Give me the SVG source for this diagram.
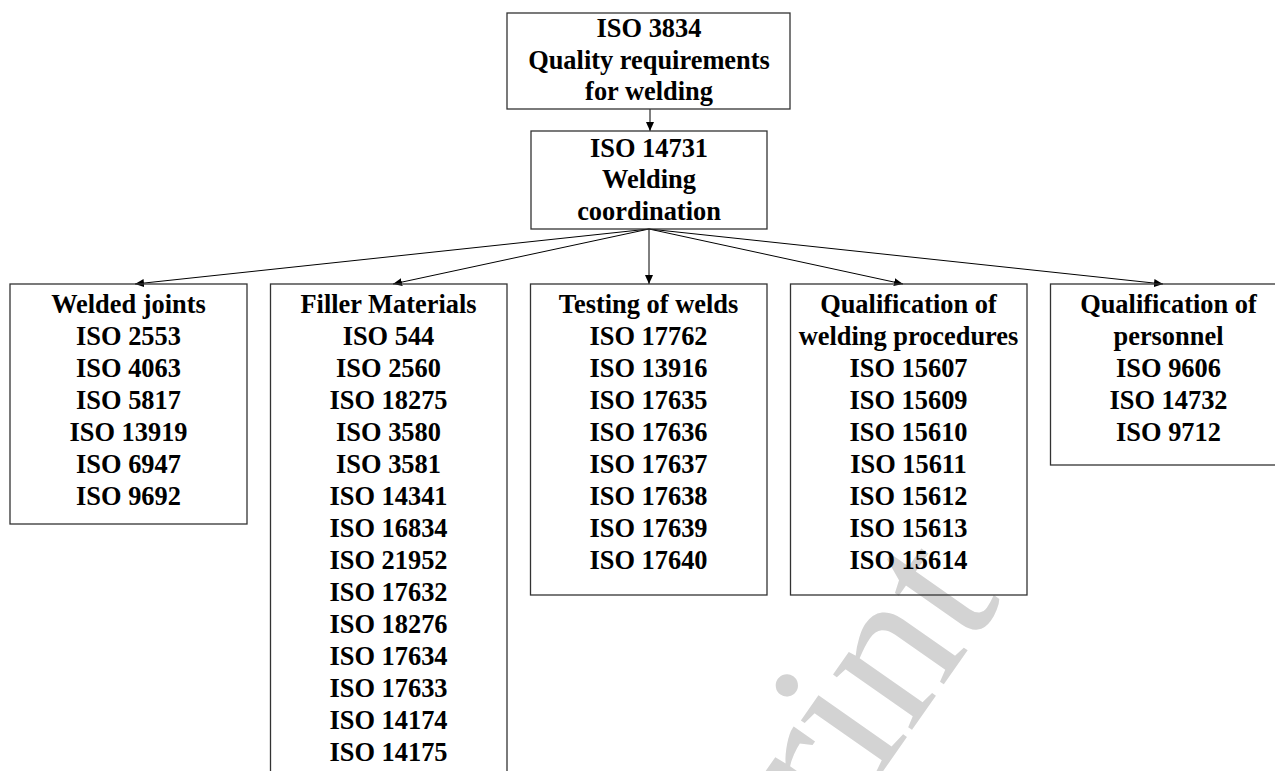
<svg xmlns="http://www.w3.org/2000/svg" width="1275" height="771" viewBox="0 0 1275 771">
<style>
.bx{fill:none;stroke:#333;stroke-width:1.3}
.t{font-family:"Liberation Serif","Times New Roman",serif;font-weight:bold;font-size:26.4px;fill:#000;text-anchor:middle}
.c{stroke:#000;stroke-width:1;fill:none}
.wm{font-family:"Liberation Serif","Times New Roman",serif;font-size:210px;fill:#d3d3d3;text-anchor:end}
</style>
<defs>
<marker id="ah" markerWidth="10" markerHeight="8" refX="9" refY="4" orient="auto" markerUnits="userSpaceOnUse">
<path d="M0,0 L9,4 L0,8 Z" fill="#000"/>
</marker>
</defs>
<rect width="1275" height="771" fill="#fff"/>
<g id="watermark">
<text class="wm" transform="translate(1003,600) rotate(-55)" x="0" y="0">Preprint</text>
</g>
<g id="connectors">
<line class="c" x1="650" y1="109" x2="650" y2="131" marker-end="url(#ah)"/>
<line class="c" x1="649" y1="229" x2="135" y2="284" marker-end="url(#ah)"/>
<line class="c" x1="649" y1="229" x2="393" y2="284" marker-end="url(#ah)"/>
<line class="c" x1="649" y1="229" x2="649" y2="284" marker-end="url(#ah)"/>
<line class="c" x1="649" y1="229" x2="903" y2="284" marker-end="url(#ah)"/>
<line class="c" x1="649" y1="229" x2="1163" y2="284" marker-end="url(#ah)"/>
</g>
<g id="iso3834">
<rect class="bx" x="507" y="13" width="283" height="96"/>
<text class="t" x="649" y="37.3">ISO 3834</text>
<text class="t" x="649" y="68.5">Quality requirements</text>
<text class="t" x="649" y="99.5">for welding</text>
</g>
<g id="iso14731">
<rect class="bx" x="531" y="131" width="236" height="98"/>
<text class="t" x="649" y="156.7">ISO 14731</text>
<text class="t" x="649" y="188.3">Welding</text>
<text class="t" x="649" y="220">coordination</text>
</g>
<g id="welded">
<rect class="bx" x="10" y="284" width="237" height="240"/>
<text class="t" x="128.5" y="312.7">Welded joints</text>
<text class="t" x="128.5" y="344.7">ISO 2553</text>
<text class="t" x="128.5" y="376.7">ISO 4063</text>
<text class="t" x="128.5" y="408.7">ISO 5817</text>
<text class="t" x="128.5" y="440.7">ISO 13919</text>
<text class="t" x="128.5" y="472.7">ISO 6947</text>
<text class="t" x="128.5" y="504.7">ISO 9692</text>
</g>
<g id="filler">
<rect class="bx" x="270.5" y="284" width="236.5" height="520"/>
<text class="t" x="388.5" y="312.7">Filler Materials</text>
<text class="t" x="388.5" y="344.7">ISO 544</text>
<text class="t" x="388.5" y="376.7">ISO 2560</text>
<text class="t" x="388.5" y="408.7">ISO 18275</text>
<text class="t" x="388.5" y="440.7">ISO 3580</text>
<text class="t" x="388.5" y="472.7">ISO 3581</text>
<text class="t" x="388.5" y="504.7">ISO 14341</text>
<text class="t" x="388.5" y="536.7">ISO 16834</text>
<text class="t" x="388.5" y="568.7">ISO 21952</text>
<text class="t" x="388.5" y="600.7">ISO 17632</text>
<text class="t" x="388.5" y="632.7">ISO 18276</text>
<text class="t" x="388.5" y="664.7">ISO 17634</text>
<text class="t" x="388.5" y="696.7">ISO 17633</text>
<text class="t" x="388.5" y="728.7">ISO 14174</text>
<text class="t" x="388.5" y="760.7">ISO 14175</text>
</g>
<g id="testing">
<rect class="bx" x="530.5" y="284" width="236.5" height="311"/>
<text class="t" x="648.5" y="312.7">Testing of welds</text>
<text class="t" x="648.5" y="344.7">ISO 17762</text>
<text class="t" x="648.5" y="376.7">ISO 13916</text>
<text class="t" x="648.5" y="408.7">ISO 17635</text>
<text class="t" x="648.5" y="440.7">ISO 17636</text>
<text class="t" x="648.5" y="472.7">ISO 17637</text>
<text class="t" x="648.5" y="504.7">ISO 17638</text>
<text class="t" x="648.5" y="536.7">ISO 17639</text>
<text class="t" x="648.5" y="568.7">ISO 17640</text>
</g>
<g id="procedures">
<rect class="bx" x="790.5" y="284" width="236.5" height="311"/>
<text class="t" x="908.5" y="312.7">Qualification of</text>
<text class="t" x="908.5" y="344.7">welding procedures</text>
<text class="t" x="908.5" y="376.7">ISO 15607</text>
<text class="t" x="908.5" y="408.7">ISO 15609</text>
<text class="t" x="908.5" y="440.7">ISO 15610</text>
<text class="t" x="908.5" y="472.7">ISO 15611</text>
<text class="t" x="908.5" y="504.7">ISO 15612</text>
<text class="t" x="908.5" y="536.7">ISO 15613</text>
<text class="t" x="908.5" y="568.7">ISO 15614</text>
</g>
<g id="personnel">
<rect class="bx" x="1050.5" y="284" width="236.5" height="181"/>
<text class="t" x="1168.5" y="312.7">Qualification of</text>
<text class="t" x="1168.5" y="344.7">personnel</text>
<text class="t" x="1168.5" y="376.7">ISO 9606</text>
<text class="t" x="1168.5" y="408.7">ISO 14732</text>
<text class="t" x="1168.5" y="440.7">ISO 9712</text>
</g>
</svg>
